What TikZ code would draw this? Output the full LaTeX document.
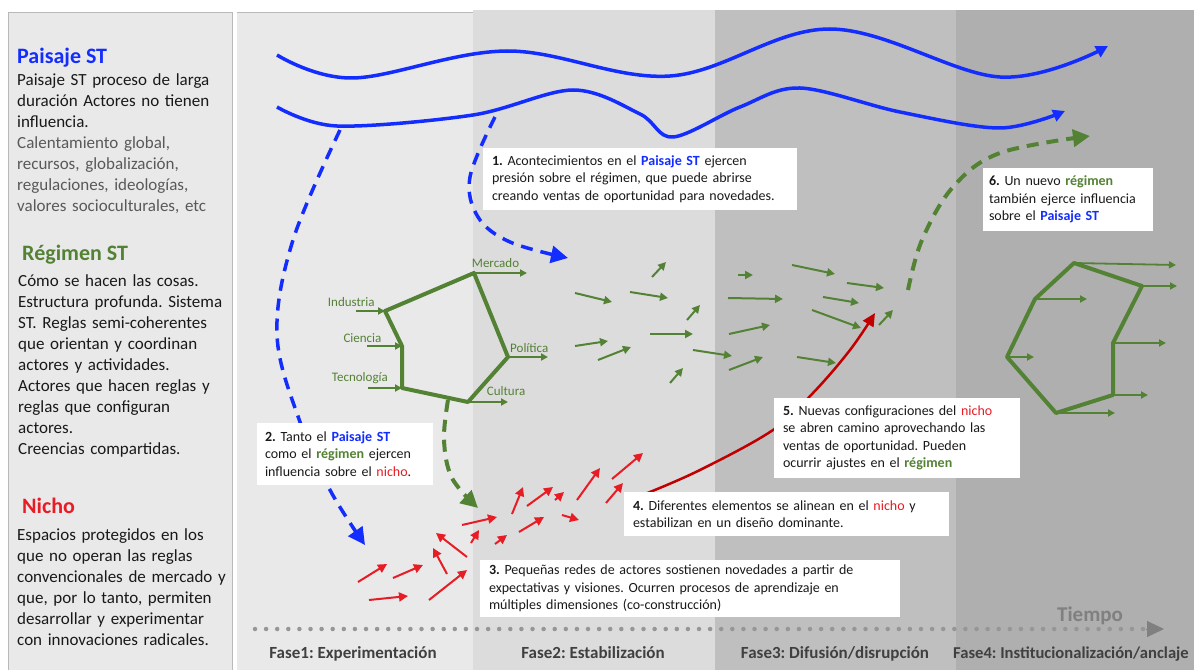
\documentclass[tikz,border=0pt]{standalone}
\usepackage{fontspec}
\setmainfont{Carlito}
\usetikzlibrary{arrows.meta}
\frenchspacing

\definecolor{pblue}{RGB}{20,45,255}
\definecolor{rgreen}{RGB}{84,130,53}
\definecolor{nred}{RGB}{232,28,36}
\definecolor{dkred}{RGB}{192,0,0}
\definecolor{txt}{RGB}{25,25,25}
\definecolor{subgray}{RGB}{89,89,89}
\definecolor{phaseA}{RGB}{233,233,233}
\definecolor{phaseB}{RGB}{220,220,220}
\definecolor{phaseC}{RGB}{191,191,191}
\definecolor{phaseD}{RGB}{175,175,175}
\definecolor{framegray}{RGB}{185,185,185}
\definecolor{phasetxt}{RGB}{64,64,64}
\definecolor{timegray}{RGB}{128,128,128}
\definecolor{dotgray}{RGB}{150,150,150}

\newcommand\PaisajeW{\textbf{\textcolor{pblue}{Paisaje ST}}}
\newcommand\RegimenW{\textbf{\textcolor{rgreen}{régimen}}}
\newcommand\NichoW{\textcolor{nred}{nicho}}

\tikzset{
  wave/.style={pblue, line width=3.5bp, -{Triangle[length=12bp,width=12bp]}},
  bluedash/.style={pblue, line width=3.5bp, dash pattern=on 12bp off 8bp, -{Triangle[length=17bp,width=17bp]}},
  greendash/.style={rgreen, line width=4bp, dash pattern=on 12bp off 8bp, -{Triangle[length=17bp,width=17bp]}},
  garrow/.style={rgreen, line width=2bp, -{Triangle[length=8bp,width=8bp]}},
  rarrow/.style={nred, line width=2bp, -{Triangle[length=9bp,width=9bp]}},
  frame/.style={rgreen, line width=4bp, line join=round},
  spoke/.style={rgreen, line width=1.8bp, -{Triangle[length=7bp,width=7bp]}},
  flabel/.style={rgreen, anchor=base west, inner sep=0pt, font=\fontsize{13bp}{15bp}\selectfont},
  lefttitle/.style={anchor=base west, inner sep=0pt, font=\fontsize{22bp}{26bp}\selectfont\bfseries},
  lefttxt/.style={anchor=base west, inner sep=0pt, text width=214bp, align=left, text=txt,
    font=\fontsize{17bp}{21bp}\selectfont},
  callout/.style={fill=white, align=left, inner ysep=0pt, text=txt,
    font=\fontsize{14bp}{17.5bp}\selectfont},
  phaselbl/.style={anchor=base, inner sep=0pt, text=phasetxt, font=\fontsize{17bp}{20bp}\selectfont\bfseries},
}

\begin{document}
\begin{tikzpicture}[x=1bp,y=-1bp]
\useasboundingbox (0,0) rectangle (1194,670);

% ---- backgrounds: side panel and the four phases
\fill[white] (0,0) rectangle (1194,670);
\draw[framegray, fill=phaseA, line width=0.8bp] (8,12) rectangle (232,675);
\fill[phaseA] (237,12) rectangle (473,670);
\draw[framegray, line width=0.8bp] (237,12) -- (473,12);
\fill[phaseB] (473,10) rectangle (715,670);
\fill[phaseC] (715,10) rectangle (956,670);
\fill[phaseD] (956,10) rectangle (1194,670);

% ---- side panel texts
\node[lefttitle, text=pblue] (tP) at (17,64) {Paisaje ST};
\node[lefttxt] (bP) at (17,85.5) {Paisaje ST proceso de larga\\duración Actores no tienen\\influencia.\\
  \color{subgray}Calentamiento global,\\recursos, globalización,\\regulaciones, ideologías,\\valores socioculturales, etc};
\node[lefttitle, text=rgreen] (tR) at (22,260) {Régimen ST};
\node[lefttxt] (bR) at (18,286.5) {Cómo se hacen las cosas.\\Estructura profunda. Sistema\\ST. Reglas semi-coherentes\\que orientan y coordinan\\actores y actividades.\\Actores que hacen reglas y\\reglas que configuran\\actores.\\Creencias compartidas.};
\node[lefttitle, text=nred] (tN) at (22,513) {Nicho};
\node[lefttxt] (bN) at (17,540.5) {Espacios protegidos en los\\que no operan las reglas\\convencionales de mercado y\\que, por lo tanto, permiten\\desarrollar y experimentar\\con innovaciones radicales.};

% ---- landscape waves
\draw[wave] plot[smooth, tension=0.6] coordinates {(277,55) (353,78) (507,51) (670,76) (830,29) (1000,77) (1108,46)};
\draw[wave] plot[smooth, tension=0.55] coordinates {(277,107) (337,126) (473,115) (573,90) (640,114) (673,137) (740,107) (800,88) (900,112) (1000,128) (1065,111)};

% ---- landscape pressure (dashed blue)
\draw[bluedash] plot[smooth, tension=0.6] coordinates {(340,130) (293,240) (277,335) (300,422) (330,490) (365,545)};
\draw[bluedash] plot[smooth, tension=0.6] coordinates {(495,117) (470,177) (478,217) (510,242) (568,258)};

% ---- current regime frame
\coordinate (p1) at (385,311);
\coordinate (p2) at (474,273);
\coordinate (p3) at (508,357);
\coordinate (p4) at (468,402);
\coordinate (p5) at (402,388);
\coordinate (p6) at (402,346);
\draw[frame] (p1) -- (p2) -- (p3) -- (p4) -- (p5) -- (p6) -- cycle;
\coordinate (i1) at (356,311);
\coordinate (i6) at (367,346);
\coordinate (i5) at (368,388);
\coordinate (o2) at (527,273);
\coordinate (o3) at (548,357);
\coordinate (o4) at (508,402);
\draw[spoke] (i1) -- (p1);
\draw[spoke] (i6) -- (p6);
\draw[spoke] (i5) -- (p5);
\draw[spoke] (p2) -- (o2);
\draw[spoke] (p3) -- (o3);
\draw[spoke] (p4) -- (o4);
\node[flabel] (lInd) at (327.7,306.5) {Industria};
\node[flabel] (lCie) at (343.3,342.7) {Ciencia};
\node[flabel] (lTec) at (331.7,381.7) {Tecnología};
\node[flabel] (lMer) at (471.7,267.7) {Mercado};
\node[flabel] (lPol) at (510,352.7) {Política};
\node[flabel] (lCul) at (486.7,395.3) {Cultura};

% ---- regime influence on the niche
\draw[greendash] plot[smooth, tension=0.6] coordinates {(448,400) (444,440) (452,478) (478,508)};

% ---- loosened regime elements
\foreach \ax/\ay/\bx/\by in {575/293/612/302, 630/292/668/298, 652/277/666/262, 687/320/700/305,
  575/346/608/341, 598/360/631/347, 650/334/693/334, 670/383/683/368, 693/350/732/356,
  738/275/753/275, 728/298/783/299, 792/265/835/274, 847/283/884/288, 823/297/859/303,
  812/310/861/328, 729/334/770/325, 729/370/763/357, 797/357/836/363, 879/325/893/310}
  \draw[garrow] (\ax,\ay) -- (\bx,\by);

% ---- niche experiments
\foreach \ax/\ay/\bx/\by in {358/582/387/564, 393/578/423/565, 369/600/408/596, 429/600/467/570,
  447/574/433/548, 467/557/436/533, 462/525/497/517, 471/543/479/530, 495/544/507/535,
  512/514/523/487, 519/532/544/517, 527/506/553/487, 555/500/564/492, 562/515/579/520,
  577/500/600/468, 612/479/643/453, 606/503/623/483}
  \draw[rarrow] (\ax,\ay) -- (\bx,\by);

% ---- niche breakthrough
\draw[dkred, line width=2.5bp, -{Triangle[length=13bp,width=12bp]}] plot[smooth, tension=0.6] coordinates {(645,494) (700,470) (773,430) (813,393) (850,350) (875,313)};

% ---- new regime and its influence on the landscape
\draw[greendash] plot[smooth, tension=0.6] coordinates {(908,290) (922,240) (953,187) (1000,153) (1090,136)};
\coordinate (h1) at (1074,263);
\coordinate (h2) at (1142,286);
\coordinate (h3) at (1113,343);
\coordinate (h4) at (1113,395);
\coordinate (h5) at (1056,413);
\coordinate (h6) at (1007,357);
\coordinate (h7) at (1035,299);
\draw[frame] (h1) -- (h2) -- (h3) -- (h4) -- (h5) -- (h6) -- (h7) -- cycle;
\coordinate (q1) at (1176,265);
\coordinate (q2) at (1177,286);
\coordinate (q3) at (1166,343);
\coordinate (q4) at (1148,395);
\coordinate (q5) at (1115,413);
\coordinate (q6) at (1034,357);
\coordinate (q7) at (1087,299);
\foreach \k in {1,...,7} \draw[spoke] (h\k) -- (q\k);

% ---- numbered notes
\node[callout, text width=296bp, inner xsep=9bp, minimum height=62bp] (c1) at (640,179)
  {\textbf{1.} Acontecimientos en el \PaisajeW{} ejercen\\presión sobre el régimen, que puede abrirse\\creando ventas de oportunidad para novedades.};
\node[callout, text width=160bp, inner xsep=8bp, minimum height=62bp] (c2) at (345,454)
  {\textbf{2.} Tanto el \PaisajeW\\como el \RegimenW{} ejercen\\influencia sobre el \NichoW.};
\node[callout, text width=402bp, inner xsep=9bp, minimum height=57bp] (c3) at (690,588.5)
  {\textbf{3.} Pequeñas redes de actores sostienen novedades a partir de\\expectativas y visiones. Ocurren procesos de aprendizaje en\\múltiples dimensiones (co-construcción)};
\node[callout, text width=307bp, inner xsep=9bp, minimum height=44bp] (c4) at (786.5,514)
  {\textbf{4.} Diferentes elementos se alinean en el \NichoW{} y\\estabilizan en un diseño dominante.};
\node[callout, text width=228bp, inner xsep=9bp, minimum height=80bp] (c5) at (897,438)
  {\textbf{5.} Nuevas configuraciones del \NichoW\\se abren camino aprovechando las\\ventas de oportunidad. Pueden\\ocurrir ajustes en el \RegimenW};
\node[callout, text width=158bp, inner xsep=6bp, minimum height=63bp] (c6) at (1068,199.5)
  {\textbf{6.} Un nuevo \RegimenW\\también ejerce influencia\\sobre el \PaisajeW};

% ---- time axis and phases
\coordinate (t0) at (255,629);
\coordinate (t1) at (1146,629);
\coordinate (t2) at (1164,629);
\draw[dotgray, line width=4.5bp, line cap=round, dash pattern=on 0bp off 11.1bp] (t0) -- (t1);
\draw[timegray, line width=1bp, -{Triangle[length=17bp,width=16bp]}] (t1) -- (t2);
\node[anchor=base, inner sep=0pt, text=timegray, font=\fontsize{21bp}{24bp}\selectfont\bfseries] (tiempo) at (1090,621) {Tiempo};
\node[phaselbl] (f1) at (353,658) {Fase1: Experimentación};
\node[phaselbl] (f2) at (593,658) {Fase2: Estabilización};
\node[phaselbl] (f3) at (835,658) {Fase3: Difusión/disrupción};
\node[phaselbl, anchor=base west, font=\fontsize{16.6bp}{20bp}\selectfont\bfseries] (f4) at (953,658) {Fase4: Institucionalización/anclaje};
\end{tikzpicture}
\end{document}
